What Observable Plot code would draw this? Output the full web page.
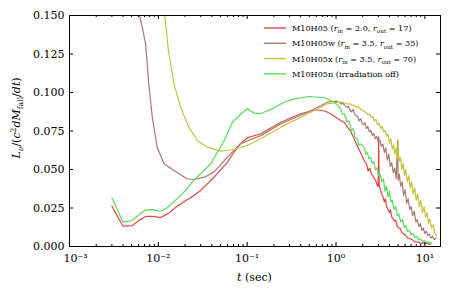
<!DOCTYPE html>
<html><head><meta charset="utf-8">
<script src="https://cdn.jsdelivr.net/npm/d3@7"></script>
<script src="https://cdn.jsdelivr.net/npm/@observablehq/plot@0.6"></script>
<style>body{margin:0;background:#fff}</style>
</head><body><div id="chart"></div>
<script>
// ---- data ----
const seriesNames = ["M10H05", "M10H05w", "M10H05x", "M10H05n"];
const legendLabels = [
  "M10H05 (*r*_{in} = 2.0, *r*_{out} = 17)",
  "M10H05w (*r*_{in} = 3.5, *r*_{out} = 35)",
  "M10H05x (*r*_{in} = 3.5, *r*_{out} = 70)",
  "M10H05n (irradiation off)"
];
const seriesColors = ["#e04848", "#a87b70", "#c6c43e", "#5ada5a"];

const redT = [0.003,0.004,0.0051,0.006,0.0072,0.0085,0.0106,0.013,0.0157,0.02,0.0231,0.03,0.0424,0.06,0.071,0.085,0.1,0.142,0.24,0.4,0.59,0.75,0.87,1.05,1.24,1.47,1.75,2.0,2.1,2.2,2.3,2.4,2.5,2.6,2.7,2.8,2.9,2.98,3.02,3.06,3.15,3.25,3.35,3.5,3.6,3.7,3.85,4.0,4.1,4.25,4.4,4.55,4.7,4.9,5.1,5.3,5.5,5.8,6.1,6.4,6.8,7.2,7.6,8.0,8.5,9.0,9.5,10.0,10.6,11.2,11.7];
const redL = [0.0262,0.0132,0.0136,0.0168,0.0195,0.0195,0.0188,0.0215,0.0255,0.0295,0.0316,0.0364,0.045,0.0548,0.0612,0.067,0.0705,0.0732,0.0807,0.0862,0.0888,0.088,0.0862,0.083,0.0805,0.0745,0.065,0.058,0.055,0.054,0.049,0.051,0.047,0.046,0.044,0.043,0.040,0.039,0.071,0.040,0.037,0.034,0.033,0.029,0.031,0.026,0.024,0.022,0.024,0.019,0.018,0.0165,0.017,0.013,0.012,0.0115,0.009,0.008,0.0075,0.0055,0.005,0.0045,0.0032,0.003,0.0028,0.002,0.0025,0.0018,0.0022,0.0015,0.0017];

const brownT = [0.00615,0.0066,0.0072,0.0078,0.00855,0.0097,0.0116,0.015,0.021,0.025,0.033,0.042,0.06,0.084,0.142,0.24,0.48,0.8,1.0,1.05,1.1,1.15,1.2,1.26,1.32,1.38,1.44,1.5,1.56,1.62,1.68,1.75,1.82,1.89,1.96,2.04,2.12,2.2,2.28,2.37,2.46,2.56,2.66,2.77,2.88,3.0,3.12,3.24,3.37,3.5,3.64,3.78,3.93,4.08,4.24,4.41,4.58,4.76,4.94,5.0,5.15,5.35,5.55,5.77,6.0,6.24,6.49,6.75,7.0,7.3,7.6,7.9,8.2,8.55,8.9,9.25,9.6,10.0,10.4,10.8,11.2,11.7,12.2,12.8,13.4];
const brownL = [0.150,0.142,0.1316,0.1056,0.084,0.0645,0.0537,0.0494,0.044,0.0435,0.045,0.0483,0.058,0.0667,0.072,0.0797,0.0872,0.0937,0.0944,0.0938,0.0935,0.0925,0.0930,0.0915,0.0905,0.0910,0.0885,0.0875,0.0890,0.0860,0.0850,0.0845,0.0815,0.0830,0.0800,0.0790,0.0805,0.0765,0.0780,0.0745,0.0755,0.0720,0.0735,0.0700,0.0715,0.0675,0.0690,0.0650,0.0665,0.0610,0.0640,0.0560,0.0600,0.0520,0.0545,0.0480,0.0510,0.0440,0.0690,0.0430,0.0470,0.0390,0.0420,0.0330,0.0370,0.0280,0.0310,0.0240,0.0260,0.0200,0.0230,0.0160,0.0175,0.0130,0.0150,0.0105,0.0120,0.0085,0.0100,0.0070,0.0080,0.0055,0.0065,0.0045,0.0055];

const yellowT = [0.0118,0.013,0.015,0.0178,0.022,0.0275,0.0357,0.05,0.071,0.1,0.142,0.24,0.48,0.8,1.13,1.2,1.28,1.36,1.44,1.52,1.6,1.7,1.8,1.9,2.0,2.1,2.2,2.3,2.4,2.5,2.6,2.7,2.82,2.94,3.06,3.18,3.3,3.43,3.56,3.7,3.85,4.0,4.15,4.3,4.45,4.6,4.75,4.9,5.0,5.1,5.3,5.5,5.7,5.9,6.1,6.35,6.6,6.85,7.1,7.4,7.7,8.0,8.3,8.65,9.0,9.4,9.8,10.2,10.6,11.0,11.4,11.9,12.4,12.9,13.5];
const yellowL = [0.150,0.127,0.1056,0.0905,0.0775,0.0688,0.0645,0.0619,0.063,0.0656,0.070,0.0775,0.0862,0.0927,0.0937,0.0935,0.0930,0.0925,0.0928,0.0915,0.0918,0.0905,0.0908,0.0890,0.0885,0.0875,0.0870,0.0855,0.0860,0.0840,0.0845,0.0815,0.0825,0.0790,0.0800,0.0765,0.0780,0.0745,0.0755,0.0715,0.0730,0.0670,0.0700,0.0630,0.0660,0.0600,0.0640,0.0570,0.0690,0.0550,0.0580,0.0500,0.0540,0.0460,0.0500,0.0420,0.0460,0.0380,0.0420,0.0340,0.0380,0.0300,0.0340,0.0260,0.0300,0.0220,0.0260,0.0190,0.0220,0.0150,0.0180,0.0120,0.0140,0.0085,0.0070];

const greenT = [0.003,0.004,0.0051,0.006,0.0072,0.00855,0.0106,0.0125,0.0157,0.02,0.025,0.039,0.055,0.068,0.085,0.1,0.12,0.142,0.2,0.26,0.35,0.5,0.74,0.96,1.1,1.15,1.17,1.24,1.3,1.32,1.4,1.45,1.47,1.55,1.6,1.63,1.75,1.8,1.9,2.07,2.16,2.25,2.35,2.45,2.56,2.67,2.78,2.9,3.02,3.15,3.28,3.42,3.56,3.7,3.85,4.0,4.15,4.3,4.5,4.7,4.9,5.1,5.35,5.6,5.85,6.1,6.4,6.7,7.0,7.35,7.7,8.1,8.5,8.9,9.4,9.9,10.4,10.9,11.5,12.0];
const greenL = [0.0316,0.0158,0.0169,0.0205,0.0238,0.024,0.0229,0.025,0.0303,0.036,0.0429,0.0537,0.0688,0.0807,0.086,0.0894,0.0866,0.0862,0.090,0.0937,0.096,0.0974,0.0966,0.0937,0.090,0.0885,0.086,0.0862,0.083,0.081,0.0815,0.078,0.075,0.0765,0.0745,0.071,0.0695,0.066,0.0665,0.0645,0.0600,0.0610,0.0570,0.0580,0.0540,0.0550,0.0500,0.0510,0.0460,0.0470,0.0420,0.0440,0.0360,0.0390,0.0320,0.0360,0.0290,0.0300,0.0240,0.0260,0.0200,0.0210,0.0160,0.0175,0.0125,0.0135,0.0100,0.0105,0.0075,0.0085,0.0060,0.0065,0.0045,0.0050,0.0035,0.0038,0.0028,0.0030,0.0024,0.0022];

const yTicks = [0, 0.025, 0.05, 0.075, 0.1, 0.125, 0.15];
const xMajor = [1e-3, 1e-2, 1e-1, 1e0, 1e1];
const xMajorLabels = ["10⁻³", "10⁻²", "10⁻¹", "10⁰", "10¹"];
const minorMultipliers = [2,3,4,5,6,7,8,9];

// ---- table ----
const allT = [redT, brownT, yellowT, greenT];
const allL = [redL, brownL, yellowL, greenL];
const rows = [];
seriesNames.forEach((s, i) => allT[i].forEach((t, j) => rows.push({series: s, t, L: allL[i][j]})));
const xMinor = [];
xMajor.slice(0, 4).forEach(d => minorMultipliers.forEach(m => xMinor.push(d * m)));

const W = 463, H = 290, mL = 69, mT = 15, mR = 23, mB = 44;
const fw = W - mL - mR, fh = H - mT - mB;
const FONT = "DejaVu Serif";
const labelOf = new Map(xMajor.map((d, i) => [d, xMajorLabels[i]]));

const plot = Plot.plot({
  width: W, height: H,
  marginLeft: mL, marginRight: mR, marginTop: mT, marginBottom: mB,
  style: {fontFamily: FONT, fontSize: "11px", background: "white", color: "black"},
  x: {type: "log", domain: [1e-3, 15]},
  y: {domain: [0, 0.15]},
  color: {domain: seriesNames, range: seriesColors},
  marks: [
    Plot.line(rows, {x: "t", y: "L", z: "series", stroke: "series", strokeWidth: 1.2, clip: true}),
    Plot.frame({stroke: "black", strokeWidth: 1}),
    Plot.tickX(xMajor, {x: d => d, insetTop: fh - 4, stroke: "black"}),
    Plot.tickX(xMajor, {x: d => d, insetBottom: fh - 4, stroke: "black"}),
    Plot.tickX(xMinor, {x: d => d, insetTop: fh - 2, stroke: "black"}),
    Plot.tickX(xMinor, {x: d => d, insetBottom: fh - 2, stroke: "black"}),
    Plot.tickY(yTicks, {y: d => d, insetRight: fw - 4, stroke: "black"}),
    Plot.tickY(yTicks, {y: d => d, insetLeft: fw - 4, stroke: "black"}),
    Plot.axisX({ticks: xMajor.slice(0, 1), tickSize: 0, tickPadding: 8, dx: 6, tickFormat: d => labelOf.get(d), label: null, fontSize: 11}),
    Plot.axisX({ticks: xMajor.slice(1), tickSize: 0, tickPadding: 8, tickFormat: d => labelOf.get(d), label: null, fontSize: 11}),
    Plot.axisY({ticks: yTicks, tickSize: 0, tickPadding: 5, tickFormat: d3.format(".3f"), label: null, fontSize: 11})
  ]
});
document.getElementById("chart").appendChild(plot);

// ---- rich text helper ----
function rich(sel, str, fs) {
  const parts = str.split(/(\*[^*]+\*|_\{[^}]+\}|_\[[^\]]+\]|\^\{[^}]+\})/).filter(p => p.length);
  let shift = 0;
  parts.forEach(p => {
    let txt = p, italic = false, target = 0, size = fs;
    if (p.startsWith("*")) { txt = p.slice(1, -1); italic = true; }
    else if (p.startsWith("_{")) { txt = p.slice(2, -1); target = 0.3 * fs; size = 0.7 * fs; }
    else if (p.startsWith("_[")) { txt = p.slice(2, -1); target = 0.3 * fs; size = 0.7 * fs; italic = true; }
    else if (p.startsWith("^{")) { txt = p.slice(2, -1); target = -0.4 * fs; size = 0.7 * fs; }
    const ts = sel.append("tspan").text(txt).attr("font-size", size).attr("dy", target - shift).attr("fill", "black");
    if (italic) ts.attr("font-style", "italic");
    shift = target;
  });
}

const svg = d3.select(plot);
// legend
const legendX0 = 264, legendX1 = 286, legendTextX = 292, legendY0 = 28, legendStep = 15.3, legendFs = 8.1;
const lg = svg.append("g").attr("font-family", FONT).attr("fill", "black").attr("text-anchor", "start");
seriesNames.forEach((s, i) => {
  const y = legendY0 + i * legendStep;
  lg.append("line").attr("x1", legendX0).attr("x2", legendX1).attr("y1", y).attr("y2", y)
    .attr("stroke", seriesColors[i]).attr("stroke-width", 1.4);
  const t = lg.append("text").attr("x", legendTextX).attr("y", y + 3).attr("text-anchor", "start")
    .attr("font-size", legendFs);
  rich(t, legendLabels[i], legendFs);
});
// axis labels
const xl = svg.append("text").attr("font-family", FONT).attr("text-anchor", "middle")
  .attr("x", mL + fw / 2).attr("y", 281).attr("font-size", 11);
rich(xl, "*t* (sec)", 11);
const yl = svg.append("text").attr("font-family", FONT).attr("text-anchor", "middle")
  .attr("transform", "translate(20,118) rotate(-90)").attr("font-size", 11);
rich(yl, "*L*_[ν]/(*c*^{2}*dM*_{fall}/*dt*)", 11);
</script>
</body></html>
